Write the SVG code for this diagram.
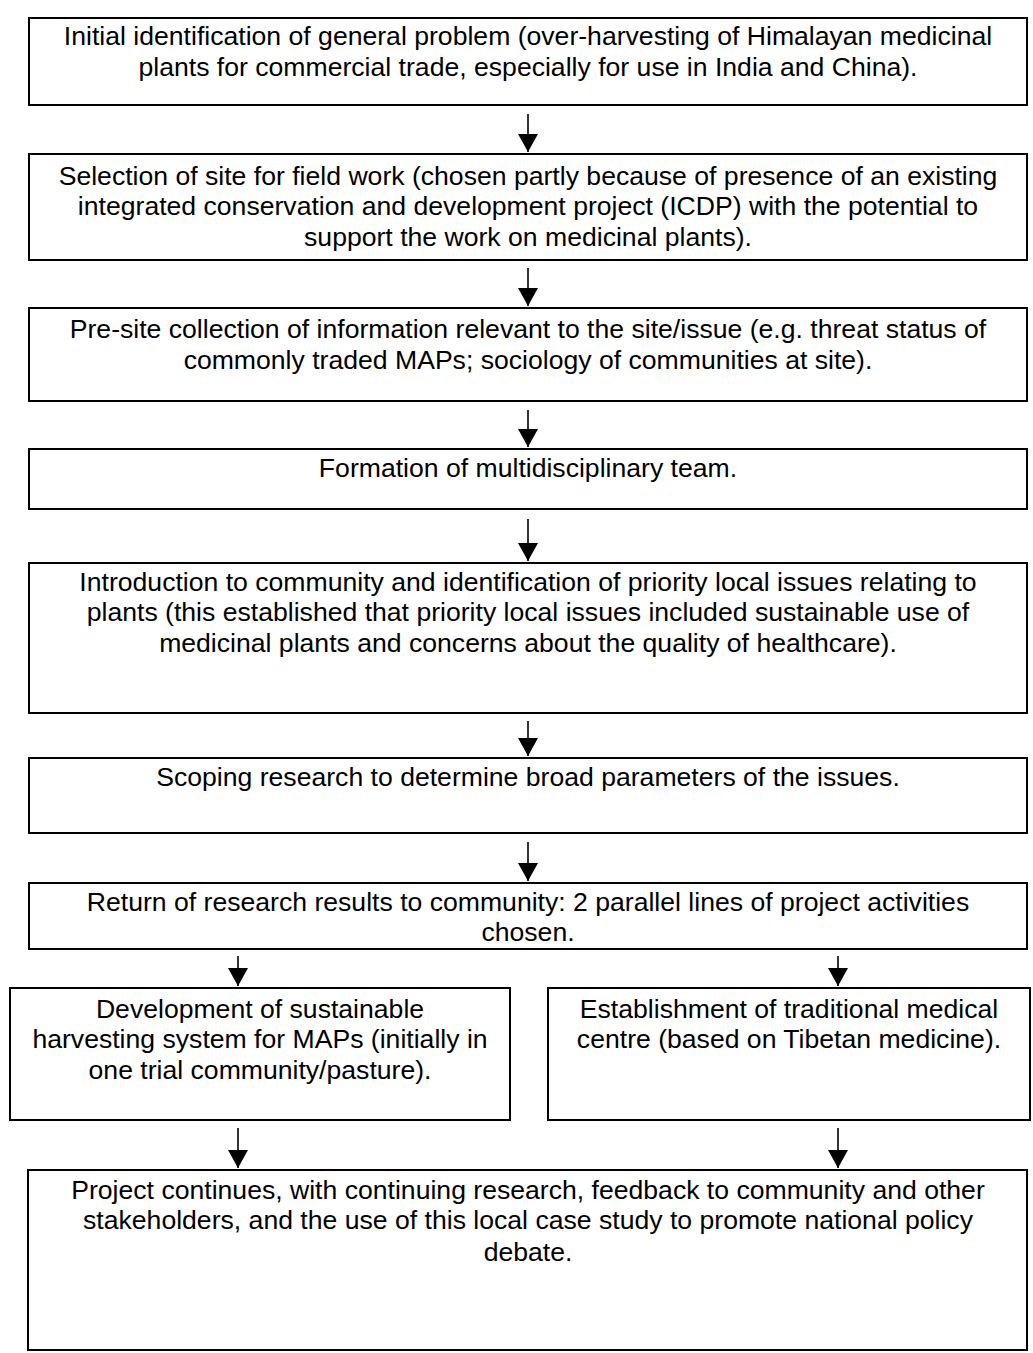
<svg xmlns="http://www.w3.org/2000/svg" width="1033" height="1353" viewBox="0 0 1033 1353">
<style>
.box{fill:#fff;stroke:#000;stroke-width:2}
.t{font-family:"Liberation Sans",Arial,sans-serif;font-size:26.6px;fill:#000;text-anchor:middle}
.c{stroke:#000;stroke-width:1.6;fill:none;marker-end:url(#ah)}
</style>
<defs>
<marker id="ah" markerUnits="userSpaceOnUse" markerWidth="18" markerHeight="20" viewBox="0 0 18 20" refX="18" refY="10" orient="auto">
<path d="M0,0 L18,10 L0,20 Z" fill="#000"/>
</marker>
</defs>
<rect width="1033" height="1353" fill="#fff"/>
<g id="connectors">
<line class="c" x1="528" y1="114" x2="528" y2="152"/>
<line class="c" x1="528" y1="268" x2="528" y2="306"/>
<line class="c" x1="528" y1="410" x2="528" y2="447"/>
<line class="c" x1="528" y1="519" x2="528" y2="561"/>
<line class="c" x1="528" y1="721" x2="528" y2="756"/>
<line class="c" x1="528" y1="842" x2="528" y2="881"/>
<line class="c" x1="238" y1="956" x2="238" y2="986"/>
<line class="c" x1="838" y1="956" x2="838" y2="986"/>
<line class="c" x1="238" y1="1128" x2="238" y2="1168"/>
<line class="c" x1="838" y1="1128" x2="838" y2="1168"/>
</g>
<g id="n1"><rect class="box" x="29" y="18" width="998" height="87"/>
<text class="t" x="528" y="45">Initial identification of general problem (over-harvesting of Himalayan medicinal</text>
<text class="t" x="528" y="76">plants for commercial trade, especially for use in India and China).</text></g>
<g id="n2"><rect class="box" x="29" y="154" width="998" height="106"/>
<text class="t" x="528" y="185">Selection of site for field work (chosen partly because of presence of an existing</text>
<text class="t" x="528" y="215">integrated conservation and development project (ICDP) with the potential to</text>
<text class="t" x="528" y="246">support the work on medicinal plants).</text></g>
<g id="n3"><rect class="box" x="29" y="308" width="998" height="93"/>
<text class="t" x="528" y="338">Pre-site collection of information relevant to the site/issue (e.g. threat status of</text>
<text class="t" x="528" y="369">commonly traded MAPs; sociology of communities at site).</text></g>
<g id="n4"><rect class="box" x="29" y="449" width="998" height="60"/>
<text class="t" x="528" y="477">Formation of multidisciplinary team.</text></g>
<g id="n5"><rect class="box" x="29" y="563" width="998" height="150"/>
<text class="t" x="528" y="591">Introduction to community and identification of priority local issues relating to</text>
<text class="t" x="528" y="621">plants (this established that priority local issues included sustainable use of</text>
<text class="t" x="528" y="652">medicinal plants and concerns about the quality of healthcare).</text></g>
<g id="n6"><rect class="box" x="29" y="758" width="998" height="75"/>
<text class="t" x="528" y="786">Scoping research to determine broad parameters of the issues.</text></g>
<g id="n7"><rect class="box" x="29" y="883" width="998" height="66"/>
<text class="t" x="528" y="911">Return of research results to community: 2 parallel lines of project activities</text>
<text class="t" x="528" y="941">chosen.</text></g>
<g id="n8"><rect class="box" x="10" y="988" width="500" height="132"/>
<text class="t" x="260" y="1018">Development of sustainable</text>
<text class="t" x="260" y="1048">harvesting system for MAPs (initially in</text>
<text class="t" x="260" y="1079">one trial community/pasture).</text></g>
<g id="n9"><rect class="box" x="548" y="988" width="482" height="132"/>
<text class="t" x="789" y="1018">Establishment of traditional medical</text>
<text class="t" x="789" y="1048">centre (based on Tibetan medicine).</text></g>
<g id="n10"><rect class="box" x="28" y="1170" width="999" height="180"/>
<text class="t" x="528" y="1199">Project continues, with continuing research, feedback to community and other</text>
<text class="t" x="528" y="1229">stakeholders, and the use of this local case study to promote national policy</text>
<text class="t" x="528" y="1261">debate.</text></g>
</svg>
